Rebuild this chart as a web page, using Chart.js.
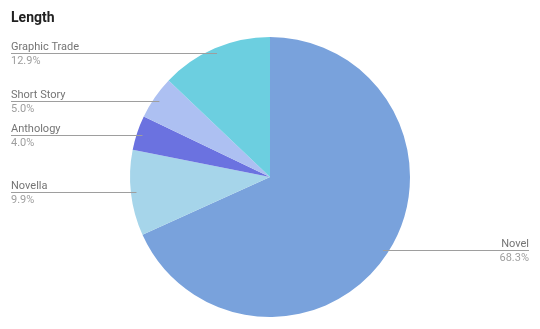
<!DOCTYPE html>
<html>
<head>
<meta charset="utf-8">
<script src="https://cdn.jsdelivr.net/npm/chart.js@4"></script>
<style>
  html, body { margin: 0; padding: 0; background: #fff; }
  #wrap { width: 540px; height: 329px; position: relative; }
</style>
</head>
<body>
<div id="wrap"><canvas id="chart"></canvas></div>
<script>
const title = "Length";
const categories = ["Novel", "Novella", "Anthology", "Short Story", "Graphic Trade"];
const shares = [68.3, 9.9, 4.0, 5.0, 12.9];
const shareLabels = ["68.3%", "9.9%", "4.0%", "5.0%", "12.9%"];
const sliceColors = ["#79a2dc", "#a6d5ea", "#6b72e0", "#adc0f2", "#6ccfe0"];

// title + leader-line labels, drawn after the pie
const leaderLabels = {
  id: "leaderLabels",
  afterDraw(chart) {
    const ctx = chart.ctx;
    ctx.save();
    ctx.fillStyle = "#212121";
    ctx.font = "bold 14px Roboto";
    ctx.textBaseline = "alphabetic";
    ctx.textAlign = "left";
    ctx.fillText(title, 11, 22);

    const arcs = chart.getDatasetMeta(0).data;
    arcs.forEach((arc, i) => {
      const mid = (arc.startAngle + arc.endAngle) / 2;
      const r = arc.outerRadius * 0.96;
      const px = arc.x + Math.cos(mid) * r;
      const py = Math.round(arc.y + Math.sin(mid) * r) + 0.5;
      const right = px > arc.x;
      const tx = right ? 529 : 11;

      ctx.strokeStyle = "#9e9e9e";
      ctx.lineWidth = 1;
      ctx.beginPath();
      ctx.moveTo(tx, py);
      ctx.lineTo(px, py);
      ctx.stroke();

      ctx.textAlign = right ? "right" : "left";
      ctx.font = "11px Roboto";
      ctx.fillStyle = "#757575";
      ctx.fillText(categories[i], tx, py - 4);
      ctx.fillStyle = "#9e9e9e";
      ctx.fillText(shareLabels[i], tx, py + 10);
    });
    ctx.restore();
  }
};

new Chart(document.getElementById("chart"), {
  type: "pie",
  data: {
    labels: categories,
    datasets: [{
      data: shares,
      backgroundColor: sliceColors,
      borderWidth: 0
    }]
  },
  options: {
    responsive: true,
    maintainAspectRatio: false,
    animation: false,
    layout: { padding: { top: 37, bottom: 12 } },
    plugins: {
      legend: { display: false },
      tooltip: { enabled: false }
    }
  },
  plugins: [leaderLabels]
});
</script>
</body>
</html>
